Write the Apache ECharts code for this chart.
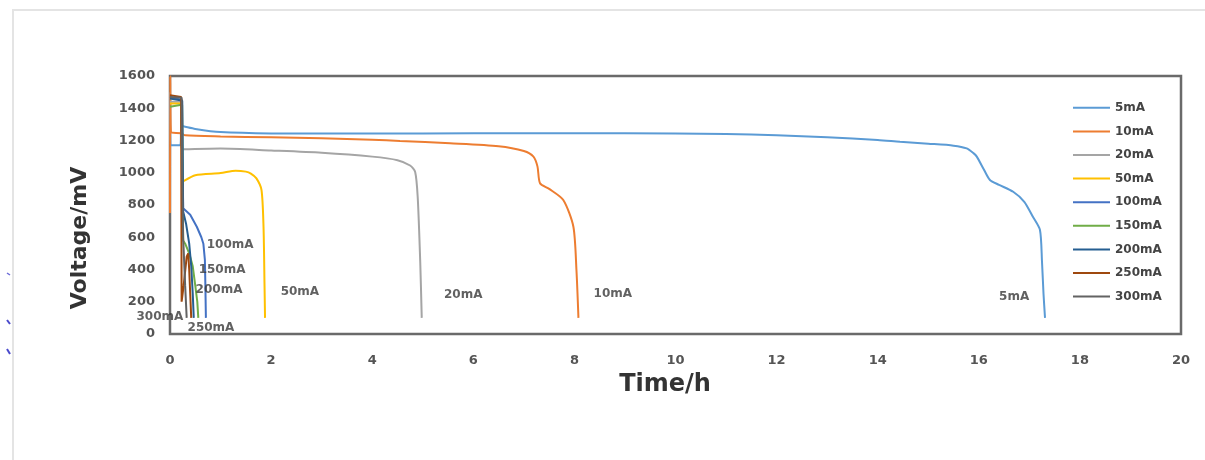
<!DOCTYPE html>
<html><head><meta charset="utf-8">
<script src="https://cdn.jsdelivr.net/npm/echarts@6/dist/echarts.min.js"></script>
<style>html,body{margin:0;padding:0;background:#fff}#c{width:1205px;height:460px}</style>
</head><body><div id="c"></div>
<script>
// ---- data ----
const seriesNames = ['5mA','10mA','20mA','50mA','100mA','150mA','200mA','250mA','300mA'];
const seriesColors = ['#5B9BD5','#ED7D31','#A5A5A5','#FFC000','#4472C4','#70AD47','#255E91','#9E480E','#636363'];
const xTicks = [0,2,4,6,8,10,12,14,16,18,20];
const yTicks = [0,200,400,600,800,1000,1200,1400,1600];

const d5mA = [[0,1500],[0.01,1170],[0.2,1170],[0.23,1290],[0.5,1272],[1,1252],[2,1244],[4,1243],[6,1245],[8,1245],[10,1243],[11,1240],[12,1233],[13,1220],[14,1203],[14.44,1192],[15,1180],[15.5,1168],[15.76,1151],[15.9,1120],[15.96,1100],[16.1,1020],[16.22,955],[16.4,925],[16.68,882],[16.9,820],[17.07,727],[17.21,645],[17.25,450],[17.28,250],[17.31,100]];
const d10mA = [[0,750],[0.005,1600],[0.02,1250],[0.22,1245],[0.3,1232],[1,1225],[2,1220],[3,1214],[4,1205],[4.55,1197],[5.54,1183],[6.5,1165],[7,1135],[7.19,1100],[7.27,1038],[7.32,935],[7.5,900],[7.78,831],[7.98,665],[8.04,400],[8.08,100]];
const d20mA = [[0,1440],[0.2,1440],[0.24,1145],[1,1150],[2,1138],[3,1124],[4,1100],[4.5,1078],[4.75,1045],[4.85,1005],[4.9,850],[4.95,450],[4.98,100]];
const d50mA = [[0,1430],[0.22,1430],[0.25,945],[0.5,985],[1,998],[1.3,1013],[1.5,1007],[1.6,995],[1.71,965],[1.81,893],[1.85,665],[1.87,300],[1.88,100]];
const d100mA = [[0,1470],[0.2,1455],[0.24,1450],[0.26,780],[0.4,740],[0.53,665],[0.62,600],[0.66,560],[0.69,460],[0.7,300],[0.71,100]];
const d150mA = [[0,1410],[0.2,1420],[0.24,1420],[0.26,580],[0.3,560],[0.38,500],[0.45,420],[0.5,300],[0.54,200],[0.56,100]];
const d200mA = [[0,1460],[0.2,1450],[0.24,1445],[0.26,760],[0.32,680],[0.38,560],[0.42,420],[0.45,250],[0.47,100]];
const d250mA = [[0,1480],[0.22,1470],[0.23,200],[0.27,300],[0.33,480],[0.36,500],[0.38,400],[0.4,250],[0.42,100]];
const d300mA = [[0,1470],[0.23,1465],[0.24,1000],[0.26,600],[0.3,300],[0.33,100]];
const seriesData = [d5mA,d10mA,d20mA,d50mA,d100mA,d150mA,d200mA,d250mA,d300mA];

const annotNames = ['100mA','150mA','200mA','50mA','20mA','10mA','5mA','300mA','250mA'];
const annotT = [1.19,1.03,0.97,2.57,5.80,8.76,16.70,-0.2,0.81];
const annotV = [552,397,273,260,242,248,229,105,37];

// ---- chart ----
const chart = echarts.init(document.getElementById('c'));
const smoothOn = [true,true,true,true,false,false,false,false,false];
const lineSeries = seriesNames.map((n,i)=>({
  name:n, type:'line', data:seriesData[i], showSymbol:false, symbol:'none',
  lineStyle:{width:2,color:seriesColors[i]}, itemStyle:{color:seriesColors[i]},
  smooth: smoothOn[i] ? 0.25 : false, z:2
}));
const annot = {
  type:'scatter', name:'annot', symbolSize:1, clip:false, silent:true,
  itemStyle:{color:'rgba(0,0,0,0)'},
  data: annotNames.map((n,i)=>({name:n,value:[annotT[i],annotV[i]]})),
  label:{show:true, position:'inside', formatter:p=>p.name,
    fontFamily:'DejaVu Sans', fontWeight:'bold', fontSize:12, color:'#3a3a3a'},
  z:5
};
const fontTick = {fontFamily:'DejaVu Sans', fontWeight:'bold', fontSize:13, color:'#555'};
chart.setOption({
  animation:false,
  backgroundColor:'#fff',
  grid:{left:170,right:24,top:76,bottom:126,show:true,borderColor:'#6a6a6a',borderWidth:2.5,backgroundColor:'transparent'},
  xAxis:{type:'value',min:0,max:20,interval:2,
    axisLine:{show:false},axisTick:{show:false},splitLine:{show:false},
    axisLabel:Object.assign({margin:20,formatter:v=>String(v)},fontTick)},
  yAxis:{type:'value',min:0,max:1600,interval:200,
    axisLine:{show:false},axisTick:{show:false},splitLine:{show:false},
    axisLabel:Object.assign({margin:15,formatter:v=>String(v)},fontTick)},
  legend:{orient:'vertical',left:1073,top:96,padding:0,data:seriesNames,icon:'rect',
    itemWidth:37,itemHeight:2,itemGap:0,
    textStyle:{fontFamily:'DejaVu Sans',fontWeight:'bold',fontSize:12,color:'#444',lineHeight:23.6}},
  graphic:[
    {type:'polyline',shape:{points:[[13,460],[13,10],[1205,10]]},style:{stroke:'#e4e4e4',lineWidth:2,fill:null},silent:true},
    {type:'text',x:80,y:238,rotation:Math.PI/2,style:{text:'Voltage/mV',fontFamily:'DejaVu Sans',fontWeight:'bold',fontSize:22,fill:'#333',textAlign:'center',textVerticalAlign:'middle'}},
    {type:'text',x:665,y:385,style:{text:'Time/h',fontFamily:'DejaVu Sans',fontWeight:'bold',fontSize:24,fill:'#333',textAlign:'center',textVerticalAlign:'middle'}},
    {type:'line',shape:{x1:7,y1:273,x2:10,y2:275},style:{stroke:'#6a6ad8',lineWidth:1.5}},
    {type:'line',shape:{x1:7,y1:320,x2:10,y2:324},style:{stroke:'#4a4acc',lineWidth:2}},
    {type:'line',shape:{x1:7,y1:349,x2:10,y2:354},style:{stroke:'#4a4acc',lineWidth:2}}
  ],
  series: lineSeries.concat([annot])
});
</script></body></html>
